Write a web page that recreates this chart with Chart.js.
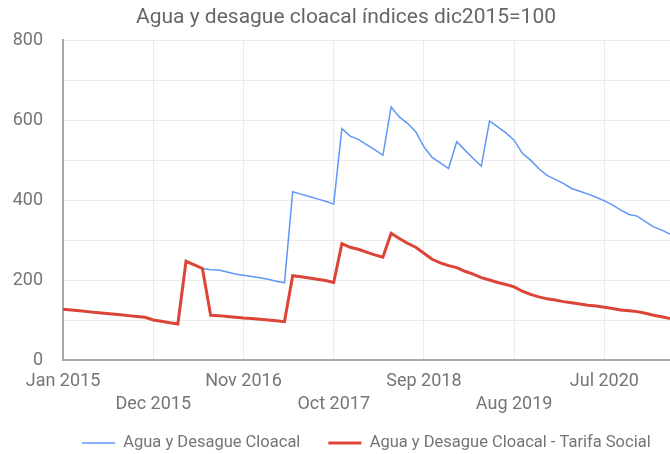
<!DOCTYPE html>
<html>
<head>
<meta charset="utf-8">
<script src="https://cdn.jsdelivr.net/npm/chart.js@4"></script>
<style>
  html, body { margin: 0; padding: 0; background: #fff; }
  #wrap { width: 670px; height: 454px; }
</style>
</head>
<body>
<div id="wrap"><canvas id="chart"></canvas></div>
<script>
// month names used for the category labels
const monthNames = ["Jan", "Feb", "Mar", "Apr", "May", "Jun", "Jul", "Aug", "Sep", "Oct", "Nov", "Dec"];
const firstYear = 2015;
const monthCount = 75; // Jan 2015 .. Mar 2021

// Agua y Desague Cloacal (blue)
const aguaValues = [
  127, 125, 123, 121, 119, 117, 115, 113, 111, 109,
  107, 100, 97, 93, 90, 247, 238, 229, 226, 225,
  220, 215, 212, 209, 206, 202, 197, 193, 421, 415,
  409, 403, 397, 390, 579, 560, 552, 539, 526, 512,
  633, 608, 592, 571, 533, 507, 493, 479, 546, 525,
  504, 485, 598, 583, 568, 550, 517, 500, 479, 462,
  452, 442, 429, 422, 415, 407, 398, 388, 375, 364,
  360, 346, 333, 325, 315
];

// Agua y Desague Cloacal - Tarifa Social (red)
const tarifaSocialValues = [
  127, 125, 123, 121, 119, 117, 115, 113, 111, 109,
  107, 100, 97, 93, 90, 247, 238, 229, 112, 111,
  109, 107, 105, 104, 102, 100, 98, 96, 211, 208,
  205, 202, 199, 194, 291, 282, 277, 270, 263, 257,
  317, 304, 292, 282, 267, 252, 243, 236, 231, 222,
  215, 206, 200, 194, 189, 183, 172, 164, 158, 153,
  150, 146, 143, 140, 137, 135, 132, 129, 125, 123,
  121, 117, 112, 108, 104
];

// a label every 11 months, alternating between two rows
const labelEvery = 11;

const labels = [];
for (let i = 0; i < monthCount; i++) {
  labels.push(monthNames[i % 12] + " " + (firstYear + Math.floor(i / 12)));
}

const font = "Roboto";
const textColor = "#757575";

// the legend only takes 20px in the layout, then gets moved to where the reference has it
const boxPlacer = {
  id: "boxPlacer",
  beforeLayout(chart) {
    const lg = chart.legend;
    if (!lg._origFit) {
      lg._origFit = lg.fit;
      lg.fit = function () {
        this._origFit();
        this._fullHeight = this.height;
        this.height = 20;
      };
    }
  },
  afterLayout(chart) {
    const t = chart.titleBlock;
    t.left += 11;
    t.right += 11;
    const lg = chart.legend;
    const pad = lg.options.labels.padding;
    const shift = 82 - pad - lg.left;
    lg.left += shift;
    lg.right += shift;
    lg.height = lg._fullHeight;
    lg.top = 443 - pad - lg.options.labels.font.size / 2;
    lg.bottom = lg.top + lg.height;
  }
};

new Chart(document.getElementById("chart"), {
  type: "line",
  plugins: [boxPlacer],
  data: {
    labels: labels,
    datasets: [
      {
        label: "Agua y Desague Cloacal - Tarifa Social",
        data: tarifaSocialValues,
        borderColor: "#db4437",
        backgroundColor: "#db4437",
        borderWidth: 3,
        pointRadius: 0,
        tension: 0
      },
      {
        label: "Agua y Desague Cloacal",
        data: aguaValues,
        borderColor: "#5e97f6",
        backgroundColor: "#5e97f6",
        borderWidth: 1.5,
        pointRadius: 0,
        tension: 0
      }
    ]
  },
  options: {
    responsive: true,
    maintainAspectRatio: false,
    animation: false,
    layout: { padding: 0 },
    plugins: {
      tooltip: { enabled: false },
      title: {
        display: true,
        text: "Agua y desague cloacal índices dic2015=100",
        color: "#666",
        font: { family: font, size: 21, weight: "normal" },
        padding: { top: 5, bottom: 10 }
      },
      legend: {
        position: "bottom",
        align: "start",
        reverse: true,
        labels: {
          usePointStyle: true,
          pointStyle: "line",
          pointStyleWidth: 33,
          padding: 28,
          color: textColor,
          font: { family: font, size: 16.5 }
        }
      }
    },
    scales: {
      x: {
        afterFit(scale) { scale.height = 74; },
        grid: { color: "#ebebeb", drawTicks: false },
        border: { color: "#a8a8a8", width: 2 },
        ticks: {
          autoSkip: false,
          maxRotation: 0,
          padding: 10,
          color: textColor,
          font: { family: font, size: 18, lineHeight: 1.296 },
          callback(value, index) {
            if (index % labelEvery !== 0) return null;
            const text = this.getLabelForValue(value);
            return (index / labelEvery) % 2 === 0 ? text : ["", text];
          }
        }
      },
      y: {
        min: 0,
        max: 800,
        afterFit(scale) { scale.width = 63; },
        grid: { color: "#ebebeb", drawTicks: false },
        border: { color: "#a8a8a8", width: 2 },
        ticks: {
          stepSize: 100,
          padding: 20,
          color: textColor,
          font: { family: font, size: 18 },
          callback(value) { return value % 200 === 0 ? value : ""; }
        }
      }
    }
  }
});
</script>
</body>
</html>
